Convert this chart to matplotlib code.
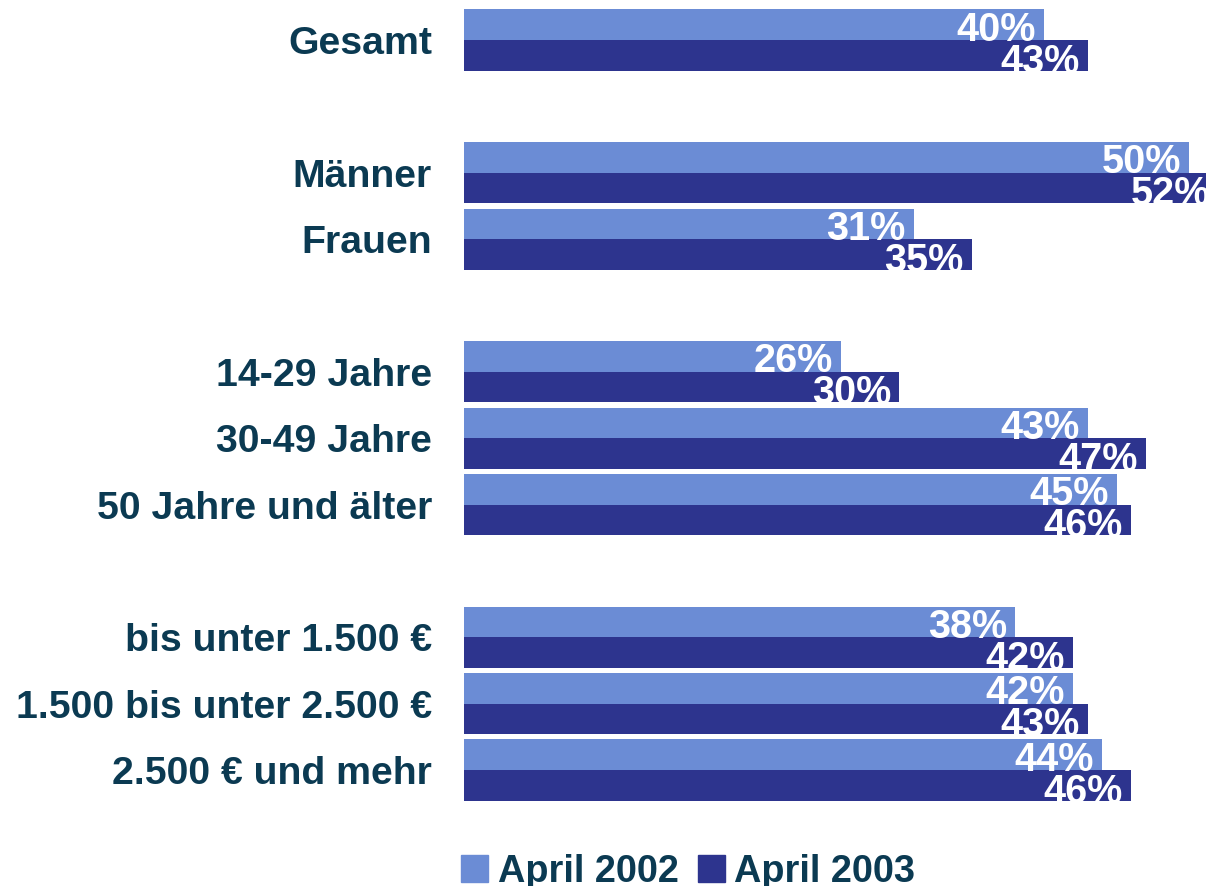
import matplotlib.pyplot as plt
from matplotlib.patches import Patch

kategorien = ["Gesamt", "Männer", "Frauen", "14-29 Jahre", "30-49 Jahre",
              "50 Jahre und älter", "bis unter 1.500 €",
              "1.500 bis unter 2.500 €", "2.500 € und mehr"]
positionen = [0, 2, 3, 5, 6, 7, 9, 10, 11]
april_2002 = [40, 50, 31, 26, 43, 45, 38, 42, 44]
april_2003 = [43, 52, 35, 30, 47, 46, 42, 43, 46]

hell = "#6b8cd5"
dunkel = "#2d348e"
textfarbe = "#0b3a52"

plt.rcParams['font.family'] = ['Liberation Sans', 'DejaVu Sans']
plt.rcParams['font.weight'] = 'bold'

fig = plt.figure(figsize=(12.06, 8.86), dpi=100)
ax = fig.add_axes([464 / 1206, 1 - 830 / 886, 1 - 464 / 1206, 830 / 886])

h = 0.46
y1 = [p - h / 2 for p in positionen]
y2 = [p + h / 2 for p in positionen]
ax.barh(y1, april_2002, height=h, color=hell)
ax.barh(y2, april_2003, height=h, color=dunkel)

# Werte weiss am Balkenende
for y, v in zip(y1, april_2002):
    ax.text(v - 0.55, y + h / 2 + 0.01, f"{v}%", color="white", fontsize=28.5,
            fontweight="bold", ha="right", va="baseline")
for y, v in zip(y2, april_2003):
    ax.text(v - 0.55, y + h / 2 + 0.03, f"{v}%", color="white", fontsize=28.5,
            fontweight="bold", ha="right", va="baseline")

ax.set_xlim(0, 742 / 14.5)
ax.set_ylim(11 + 60 / 66.36, -40 / 66.36)
ax.set_yticks(positionen)
ax.set_yticklabels(kategorien, fontsize=28.3, fontweight="bold", color=textfarbe)
ax.tick_params(axis="y", length=0, pad=23)
ax.set_xticks([])
for s in ax.spines.values():
    s.set_visible(False)

handles = [Patch(color=hell, label="April 2002"), Patch(color=dunkel, label="April 2003")]
leg = fig.legend(handles=handles, loc="lower left", bbox_to_anchor=(461 / 1206, -0.004),
                 ncol=2, frameon=False, fontsize=27.3, handlelength=0.72, handleheight=0.72,
                 handletextpad=0.25, columnspacing=0.5, borderpad=0, borderaxespad=0)
for t in leg.get_texts():
    t.set_color(textfarbe)
    t.set_fontweight("bold")

fig.savefig("out.png", dpi=100)
